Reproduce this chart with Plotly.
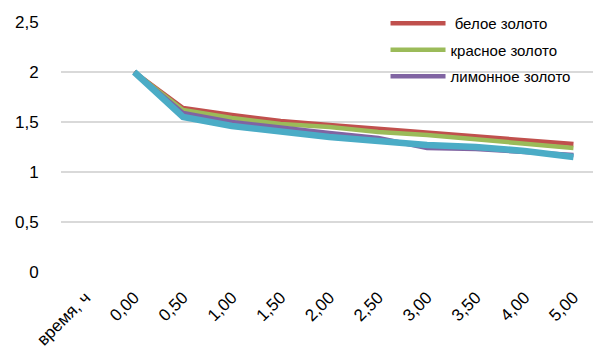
import plotly.graph_objects as go

# Category axis: first slot is the axis caption, then time in hours
categories = ["время, ч", "0,00", "0,50", "1,00", "1,50", "2,00",
              "2,50", "3,00", "3,50", "4,00", "5,00"]
time_labels = categories[1:]

white_gold = [2.00, 1.64, 1.57, 1.51, 1.47, 1.43, 1.40, 1.36, 1.32, 1.28]
red_gold = [2.00, 1.62, 1.54, 1.48, 1.45, 1.40, 1.37, 1.33, 1.29, 1.24]
lemon_gold = [2.00, 1.59, 1.50, 1.44, 1.39, 1.34, 1.24, 1.23, 1.20, 1.17]
yellow_gold = [2.00, 1.55, 1.46, 1.40, 1.35, 1.31, 1.27, 1.25, 1.21, 1.15]

y_ticks = [0, 0.5, 1, 1.5, 2, 2.5]
y_tick_text = ["0", "0,5", "1", "1,5", "2", "2,5"]

series = [
    ("\u00a0белое золото", white_gold, "#C0504D", 4.5, True),
    ("красное золото", red_gold, "#9BBB59", 4.5, True),
    ("лимонное золото", lemon_gold, "#8064A2", 4.5, True),
    ("жёлтое золото", yellow_gold, "#4BACC6", 6.5, False),
]

fig = go.Figure()
for i, (name, values, color, width, in_legend) in enumerate(series):
    fig.add_trace(go.Scatter(
        x=time_labels, y=values, mode="lines", name=name,
        line=dict(color=color, width=width),
        showlegend=in_legend, legendgroup=f"g{i}",
    ))

family = "Liberation Sans, Arial, sans-serif"
y_font = dict(family=family, size=17, color="#000000")
x_font = dict(family=family, size=17, color="#000000")
legend_font = dict(family=family, size=15, color="#000000")

fig.update_layout(
    width=593, height=351,
    margin=dict(l=61, r=0, t=22, b=79),
    paper_bgcolor="white", plot_bgcolor="white",
    font=y_font,
    showlegend=True,
    legend=dict(
        x=0.610, y=1.06, xanchor="left", yanchor="top",
        bgcolor="rgba(0,0,0,0)", font=legend_font,
        itemwidth=55, tracegroupgap=4,
    ),
    xaxis=dict(
        type="category", categoryorder="array", categoryarray=categories,
        range=[-0.5, 10.4],
        tickvals=categories, ticktext=categories,
        tickangle=-45, showgrid=False, showline=False, zeroline=False,
        ticks="outside", ticklen=8, tickcolor="rgba(0,0,0,0)",
        tickfont=x_font, automargin=False,
    ),
    yaxis=dict(
        range=[0, 2.5], tickvals=y_ticks, ticktext=y_tick_text,
        showgrid=True, gridcolor="#D9D9D9", gridwidth=2,
        zeroline=False, showline=False,
        ticks="outside", ticklen=18, tickcolor="rgba(0,0,0,0)",
        tickfont=y_font, automargin=False,
    ),
)

fig.write_html("out.html")
